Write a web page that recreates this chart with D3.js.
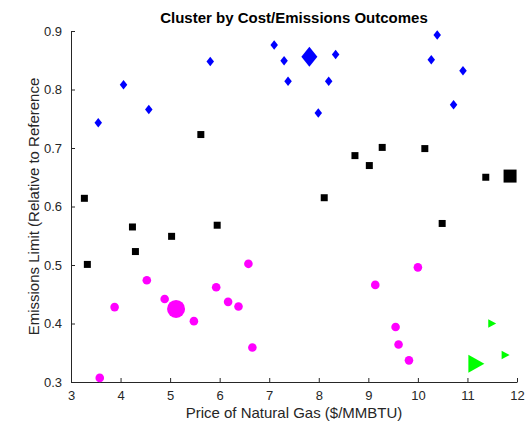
<!DOCTYPE html>
<html>
<head>
<meta charset="utf-8">
<script src="https://cdn.jsdelivr.net/npm/d3@7"></script>
<style>
  body { margin: 0; background: #fff; }
  svg { display: block; font-family: "Liberation Sans", Arial, sans-serif; }
</style>
</head>
<body>
<svg id="chart"></svg>
<script>
// cluster members: [gas price, emissions limit]
const bluePts = [
  [3.55, 0.743], [4.06, 0.808], [4.57, 0.766], [5.81, 0.848], [7.10, 0.876],
  [7.30, 0.849], [7.38, 0.814], [8.34, 0.860], [8.20, 0.814], [7.99, 0.760],
  [10.39, 0.893], [10.27, 0.851], [10.91, 0.832], [10.72, 0.774],
];
const blackPts = [
  [5.62, 0.723], [3.27, 0.614], [4.24, 0.565], [4.30, 0.523], [5.03, 0.549],
  [5.95, 0.568], [3.33, 0.501], [8.11, 0.615], [8.73, 0.687], [9.02, 0.670],
  [9.28, 0.701], [10.14, 0.699], [10.49, 0.571], [11.37, 0.650],
];
const magentaPts = [
  [6.58, 0.502], [10.0, 0.496], [4.53, 0.474], [9.14, 0.466], [5.93, 0.462],
  [4.89, 0.442], [6.17, 0.437], [6.38, 0.429], [3.88, 0.428], [5.48, 0.404],
  [9.55, 0.394], [9.61, 0.364], [6.66, 0.359], [9.82, 0.337], [3.58, 0.307],
];
const greenPts = [[11.50, 0.400], [11.77, 0.346]];
// cluster centroids
const centroids = [
  { cluster: "blue", x: 7.81, y: 0.856 },
  { cluster: "black", x: 11.86, y: 0.652 },
  { cluster: "magenta", x: 5.12, y: 0.425 },
  { cluster: "green", x: 11.18, y: 0.331 },
];
const xTicks = [3, 4, 5, 6, 7, 8, 9, 10, 11, 12];
const yTicks = [0.3, 0.4, 0.5, 0.6, 0.7, 0.8, 0.9];

const width = 528;
const height = 422;
const margin = { top: 31, right: 11, bottom: 40, left: 71 };
const axisColor = "#262626";

const svg = d3.select("#chart").attr("width", width).attr("height", height);

const x = d3.scaleLinear().domain([3, 12]).range([margin.left, width - margin.right]);
const y = d3.scaleLinear().domain([0.3, 0.9]).range([height - margin.bottom, margin.top]);

// marker shapes (MATLAB-like)
const diamond = (w, h) => `M0,${-h / 2}L${w / 2},0L0,${h / 2}L${-w / 2},0Z`;
const square = (s) => `M${-s / 2},${-s / 2}h${s}v${s}h${-s}Z`;
const triangleRight = (w, h) => `M${w / 2},0L${-w / 2},${-h / 2}L${-w / 2},${h / 2}Z`;

const styles = {
  blue: { color: "#0000ff", shape: (big) => (big ? diamond(16, 20) : diamond(7.5, 9.5)) },
  black: { color: "#000000", shape: (big) => (big ? square(13) : square(7)) },
  magenta: { color: "#ff00ff", shape: null, r: (big) => (big ? 9 : 4.3) },
  green: { color: "#00ff00", shape: (big) => (big ? triangleRight(16, 18) : triangleRight(8, 8.5)) },
};

const groups = [
  { cluster: "blue", pts: bluePts },
  { cluster: "black", pts: blackPts },
  { cluster: "magenta", pts: magentaPts },
  { cluster: "green", pts: greenPts },
];

// axes
const xAxis = d3.axisBottom(x).tickValues(xTicks).tickSizeInner(-4).tickSizeOuter(0).tickPadding(9);
const yAxis = d3.axisLeft(y).tickValues(yTicks).tickSizeInner(-4).tickSizeOuter(0).tickPadding(9)
  .tickFormat(d3.format(".1f"));

const gx = svg.append("g")
  .attr("transform", `translate(0, ${height - margin.bottom})`)
  .call(xAxis);
const gy = svg.append("g")
  .attr("transform", `translate(${margin.left}, 0)`)
  .call(yAxis);

[gx, gy].forEach((g) => {
  g.select(".domain").attr("stroke", axisColor);
  g.selectAll(".tick line").attr("stroke", axisColor);
  g.selectAll(".tick text").attr("fill", axisColor).style("font-size", "13px");
});

// points
groups.forEach(({ cluster, pts }) => {
  const st = styles[cluster];
  const data = pts.map((p) => ({ x: p[0], y: p[1], big: false }));
  centroids.filter((c) => c.cluster === cluster).forEach((c) => data.push({ x: c.x, y: c.y, big: true }));
  const g = svg.append("g").attr("fill", st.color);
  if (st.shape) {
    g.selectAll("path")
      .data(data)
      .join("path")
      .attr("transform", (d) => `translate(${x(d.x)},${y(d.y)})`)
      .attr("d", (d) => st.shape(d.big));
  } else {
    g.selectAll("circle")
      .data(data)
      .join("circle")
      .attr("cx", (d) => x(d.x))
      .attr("cy", (d) => y(d.y))
      .attr("r", (d) => st.r(d.big));
  }
});

// labels
svg.append("text")
  .attr("x", (margin.left + width - margin.right) / 2)
  .attr("y", 23)
  .attr("text-anchor", "middle")
  .style("font-size", "15px")
  .style("font-weight", "bold")
  .attr("fill", "#000")
  .text("Cluster by Cost/Emissions Outcomes");

svg.append("text")
  .attr("x", (margin.left + width - margin.right) / 2)
  .attr("y", 418)
  .attr("text-anchor", "middle")
  .style("font-size", "15px")
  .attr("fill", axisColor)
  .text("Price of Natural Gas ($/MMBTU)");

svg.append("text")
  .attr("transform", `translate(39, ${(margin.top + height - margin.bottom) / 2}) rotate(-90)`)
  .attr("text-anchor", "middle")
  .style("font-size", "15px")
  .attr("fill", axisColor)
  .text("Emissions Limit (Relative to Reference");
</script>
</body>
</html>
